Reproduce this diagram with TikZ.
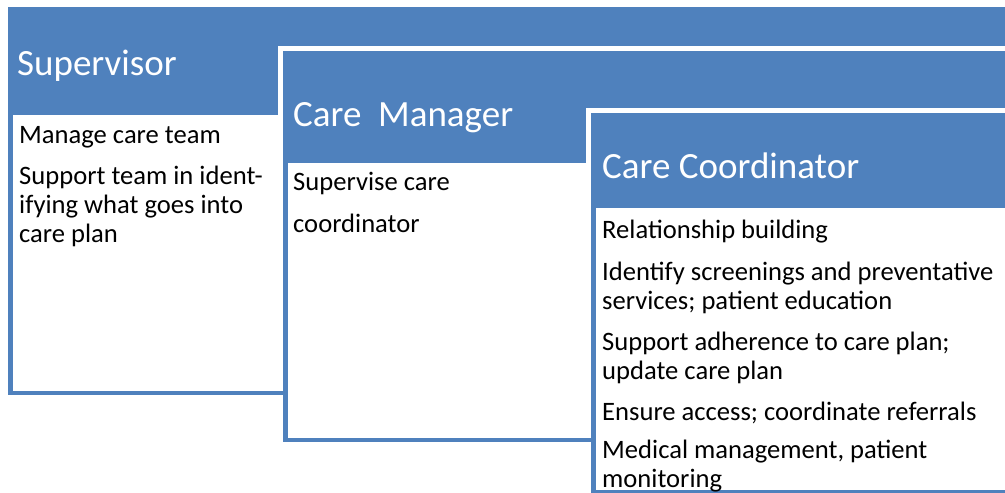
\documentclass[tikz,border=0pt]{standalone}
\usepackage{fontspec}
\setmainfont{Carlito}
\usepackage{tikz}
\usetikzlibrary{positioning}
\definecolor{cardblue}{RGB}{79,129,189}
\tikzstyle{head} = [rectangle, anchor=north west, fill=cardblue, inner sep=0pt, outer sep=0pt, preaction={draw=white, line width=10pt}]
\tikzstyle{body} = [rectangle, anchor=north west, draw=cardblue, fill=white, line width=4.5pt, inner sep=0pt]
\tikzstyle{title} = [anchor=base west, inner sep=0pt, text=white, font=\fontsize{37}{44}\selectfont]
\tikzstyle{item} = [inner sep=0pt, align=left, text=black, font=\fontsize{26.6}{29}\selectfont, execute at begin node=\strut, execute at end node=\strut]

\begin{document}
\begin{tikzpicture}[x=1pt, y=-1pt]
\clip (0,0) rectangle (1005,493);

% supervisor =============================
\node[head, minimum width=1012pt, minimum height=108pt] (suphead) at (8,7) {};
\node[body, minimum width=400pt, minimum height=280.5pt] (supbody) at (8,110) {};
\node[title] (suptitle) at (17,75) {Supervisor};
\node[item, below right=8pt and 11pt of suphead.south west] (sup1) {Manage care team};
\node[item, below right=13pt and 0pt of sup1.south west] (sup2) {Support team in ident-\\ifying what goes into\\care plan};

% care manager =============================
\node[head, minimum width=737pt, minimum height=112pt] (cmhead) at (283,51) {};
\node[body, minimum width=420pt, minimum height=279.5pt] (cmbody) at (283,158) {};
\node[title] (cmtitle) at (293,126) {Care\ \ Manager};
\node[item, below right=9pt and 10pt of cmhead.south west] (cm1) {Supervise care\\[13pt]coordinator};

% care coordinator =============================
\node[head, minimum width=429pt, minimum height=95pt] (cchead) at (591,113) {};
\node[body, minimum width=440pt, minimum height=286.5pt] (ccbody) at (591,203) {};
\node[title] (cctitle) at (602,178) {Care Coordinator};
\node[item, below right=10pt and 11pt of cchead.south west] (cc1) {Relationship building};
\node[item, below right=14pt and 0pt of cc1.south west] (cc2) {Identify screenings and preventative\\services; patient education};
\node[item, below right=14pt and 0pt of cc2.south west] (cc3) {Support adherence to care plan;\\update care plan};
\node[item, below right=11pt and 0pt of cc3.south west] (cc4) {Ensure access; coordinate referrals};
\node[item, below right=11pt and 0pt of cc4.south west] (cc5) {Medical management, patient\\monitoring};

\end{tikzpicture}
\end{document}
